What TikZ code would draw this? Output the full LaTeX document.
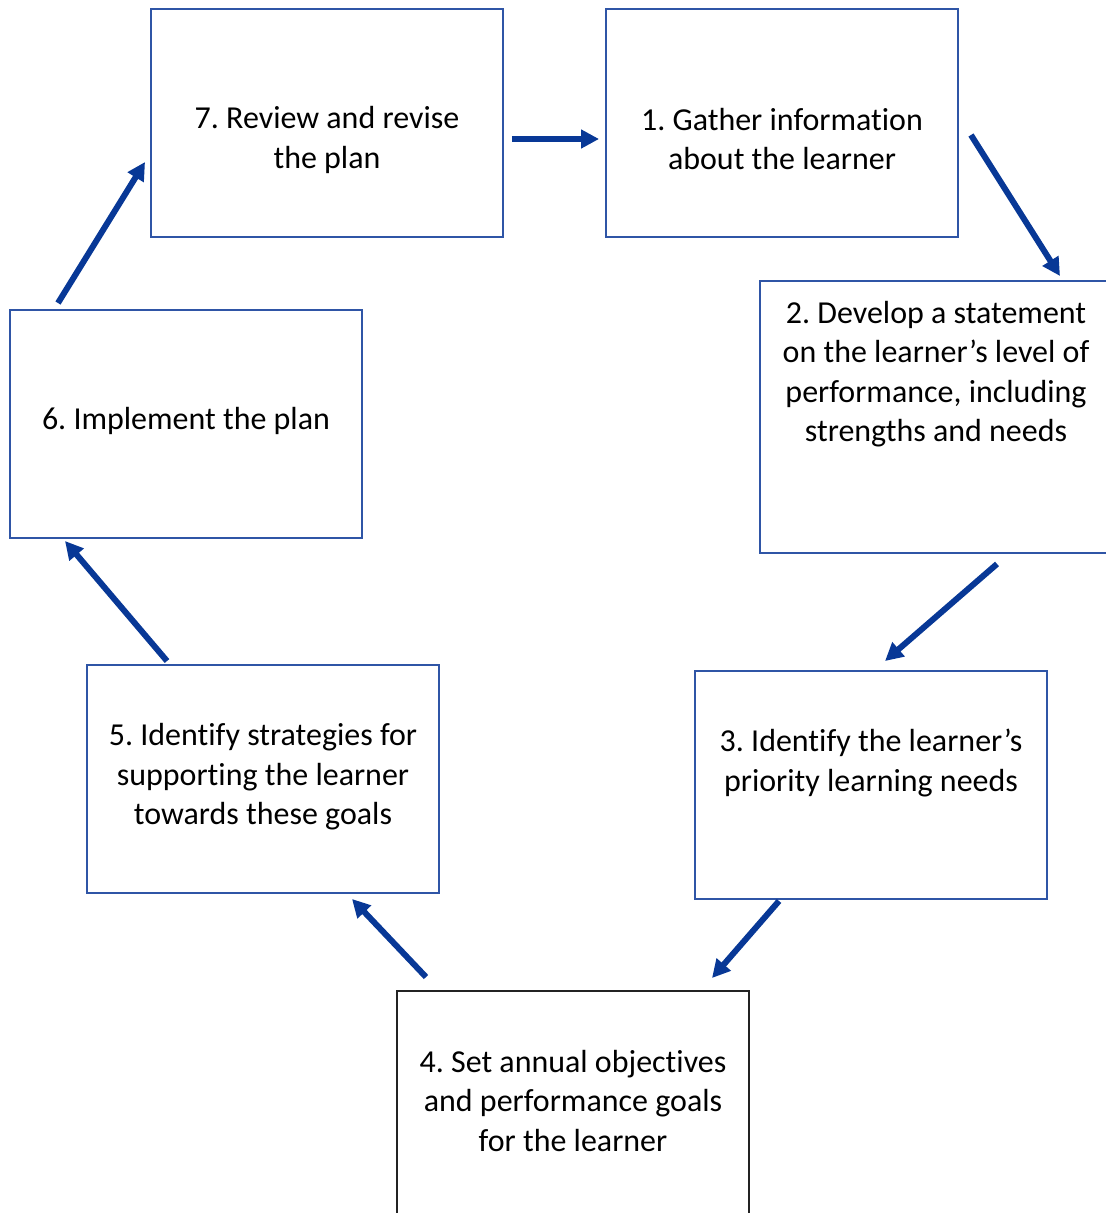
\documentclass[tikz,border=0pt]{standalone}
\usepackage{fontspec}
\setmainfont{Carlito}[Ligatures=NoCommon]
\usetikzlibrary{arrows.meta, calc, positioning}
\frenchspacing

\begin{document}
\begin{tikzpicture}[x=0.02cm, y=-0.02cm, >={Triangle[length=0.36cm, width=0.36cm]}, every node/.style={font=\fontsize{18.2}{22.5}\selectfont}]
    % Define a block style
    \tikzset{
        block/.style={draw=boxblue, line width=0.04cm, rectangle, minimum width=7.04cm, minimum height=4.56cm, inner sep=0pt},
        steptext/.style={align=center, text=black, inner sep=0pt},
        flow/.style={->, line width=0.12cm, draw=arrowblue},
    }
    % Define colors for boxes and arrows
    \definecolor{boxblue}{RGB}{47,85,166}
    \definecolor{boxdark}{RGB}{35,35,35}
    \definecolor{arrowblue}{RGB}{8,56,150}

    % Page size
    \useasboundingbox (0,0) rectangle (1105,1213);

    % Nodes
    \node[block] (review) at (327,123) {};
    \node[block] (gather) at (782,123) {};
    \node[block, minimum height=5.44cm] (statement) at (936,417) {};
    \node[block] (priority) at (871,785) {};
    \node[block, draw=boxdark, minimum height=5cm] (goals) at (573,1116) {};
    \node[block] (strategies) at (263,779) {};
    \node[block] (implement) at (186,424) {};

    \node[steptext] (review-txt) at (327,140) {7. Review and revise\\the plan};
    \node[steptext] (gather-txt) at (782,139) {1. Gather information\\about the learner};
    \node[steptext] (statement-txt) at (936,374) {2. Develop a statement\\on the learner’s level of\\performance, including\\strengths and needs};
    \node[steptext] (priority-txt) at (871,763) {3. Identify the learner’s\\priority learning needs};
    \node[steptext] (goals-txt) at (573,1101) {4. Set annual objectives\\and performance goals\\for the learner};
    \node[steptext] (strategies-txt) at (263,777) {5. Identify strategies for\\supporting the learner\\towards these goals};
    \node[steptext] (implement-txt) at (186,421) {6. Implement the plan};

    % Arrows connecting the nodes
    \draw[flow] ($(review.east)+(8,16)$) -- ($(gather.west)+(-6,16)$);
    \draw[flow] ($(gather.east)+(12,12)$) -- ($(statement.north)+(124,-4)$);
    \draw[flow] ($(statement.south)+(61,10)$) -- ($(priority.north)+(14,-9)$);
    \draw[flow] ($(priority.south)+(-92,1)$) -- ($(goals.north)+(139,-12)$);
    \draw[flow] ($(goals.north)+(-147,-13)$) -- ($(strategies.south)+(89,5)$);
    \draw[flow] ($(strategies.north)+(-96,-3)$) -- ($(implement.south)+(-121,2)$);
    \draw[flow] ($(implement.north)+(-128,-6)$) -- ($(review.west)+(-5,39)$);

\end{tikzpicture}
\end{document}
